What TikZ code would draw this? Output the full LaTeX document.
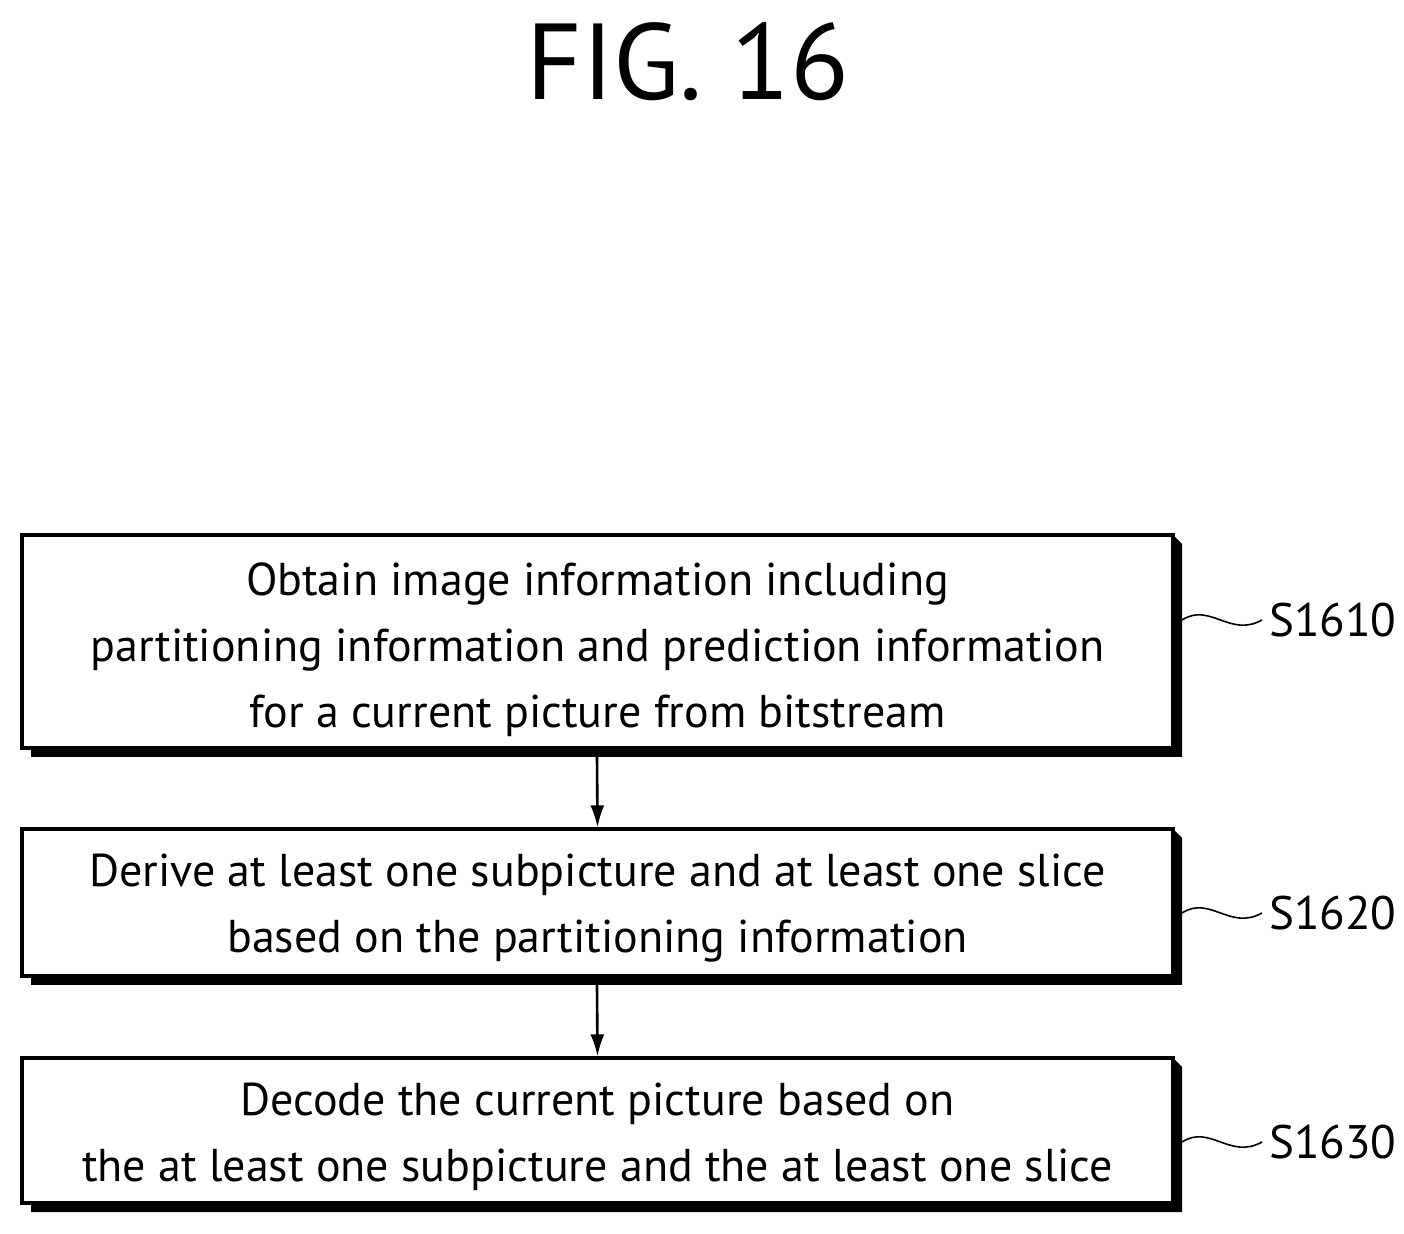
\documentclass[tikz,border=0pt]{standalone}
\usepackage{fontspec}
\setmainfont{PT Sans}
\usetikzlibrary{arrows.meta}
\begin{document}
\begin{tikzpicture}[x=0.5pt,y=-0.5pt,
 box/.style={draw,line width=1.6pt,fill=white,minimum width=575.5pt,align=center,inner sep=0pt},
 txt/.style={font=\fontsize{23}{33}\selectfont,align=center},
 lab/.style={font=\fontsize{23.5}{28}\selectfont,anchor=west},
 arr/.style={-{Latex[length=11pt,width=7pt]},line width=1.3pt}]
\useasboundingbox (0,0) rectangle (1404,1234);
\node[font=\fontsize{54}{60}\selectfont] (title) at (688,62) {FIG. 16};
\foreach \t/\b/\n in {535/748/a,829/976/b,1058/1203/c}{
  \fill (22+9,\b) -- (1173,\b) -- (1173,\t) -- (1173+9,\t+9) -- (1173+9,\b+9) -- (22+9,\b+9) -- cycle;
  \node[box,minimum height={(\b-\t)*0.5pt}] (\n) at (597.5,{(\t+\b)/2}) {};
}
\node[txt] (ta) at ([yshift=-4pt]a.center) {Obtain image information including\\partitioning information and prediction information\\for a current picture from bitstream};
\node[txt] (tb) at ([yshift=-3pt]b.center) {Derive at least one subpicture and at least one slice\\based on the partitioning information};
\node[txt] (tc) at ([yshift=-3pt]c.center) {Decode the current picture based on\\the at least one subpicture and the at least one slice};
\foreach \n/\y/\s in {a/620/S1610,b/913/S1620,c/1142/S1630}{
  \node[lab] (l\n) at (1262,\y) {\s};
  \draw[line width=0.8pt] (1182,\y) .. controls (1210,\y-18) and (1230,\y+18) .. (l\n.west);
}
\coordinate (sa) at (597,757);
\coordinate (sb) at (597,985);
\draw[arr] (sa) -- (b.north);
\draw[arr] (sb) -- (c.north);
\end{tikzpicture}
\end{document}
